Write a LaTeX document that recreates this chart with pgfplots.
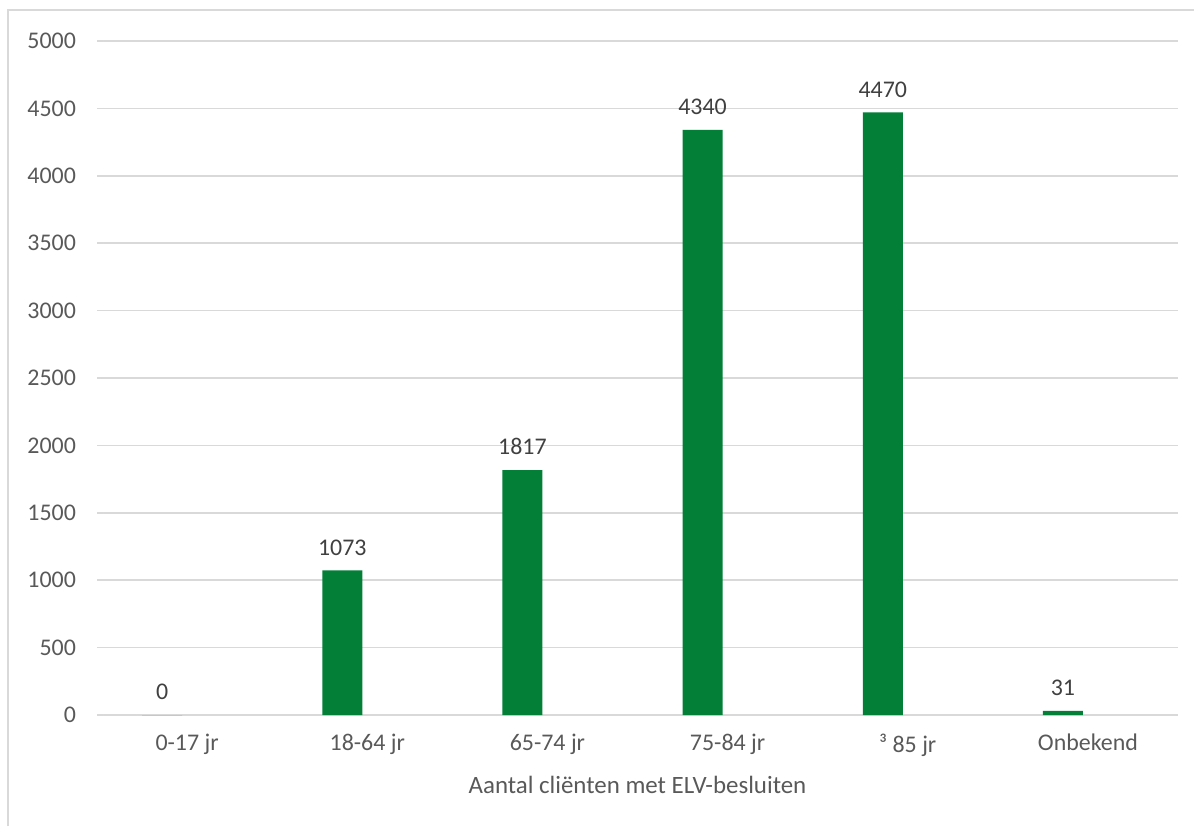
\documentclass[border=0pt]{standalone}
\usepackage{fontspec}
\setmainfont{Carlito}
\usepackage{pgfplots}
\pgfplotsset{compat=1.18}
\definecolor{barg}{HTML}{037F37}
\definecolor{gridc}{HTML}{D9D9D9}
\definecolor{txt}{HTML}{595959}
\definecolor{lab}{HTML}{404040}
\begin{document}
\begin{tikzpicture}[x=1bp,y=1bp]
\path[use as bounding box] (0,0) rectangle (597,413);
\draw[gridc, line width=1bp] (4,0) -- (4,408) -- (597,408);
\begin{axis}[
  at={(48.5bp,55.5bp)}, anchor=south west,
  scale only axis, width=540.5bp, height=337bp,
  ymin=0, ymax=5000, ytick={0,500,...,5000},
  xmin=-0.5, xmax=5.5, xtick={0,...,5},
  xticklabels={0-17 jr,18-64 jr,65-74 jr,75-84 jr,³ 85 jr,Onbekend},
  axis x line*=bottom, axis y line*=left,
  y axis line style={draw=none},
  x axis line style={draw=gridc, line width=1bp, -},
  major tick length=0pt,
  ymajorgrids, grid style={draw=gridc, line width=0.75bp},
  /pgf/number format/assume math mode=true,
  /pgf/number format/1000 sep={},
  tick label style={font=\fontsize{12}{14}\selectfont, color=txt},
  yticklabel style={xshift=-7bp},
  xticklabel style={yshift=-6bp},
  xlabel={Aantal cliënten met ELV-besluiten},
  xlabel style={font=\fontsize{12.5}{15}\selectfont, color=txt, yshift=-3bp},
]
\addplot[ybar, bar width=20bp, bar shift=-12.5bp, fill=barg, draw=none,
  nodes near coords,
  every node near coord/.append style={font=\fontsize{12}{14}\selectfont, color=lab, xshift=-12.5bp, yshift=4bp}]
  coordinates {(0,0) (1,1073) (2,1817) (3,4340) (4,4470) (5,31)};
\end{axis}
\end{tikzpicture}
\end{document}
